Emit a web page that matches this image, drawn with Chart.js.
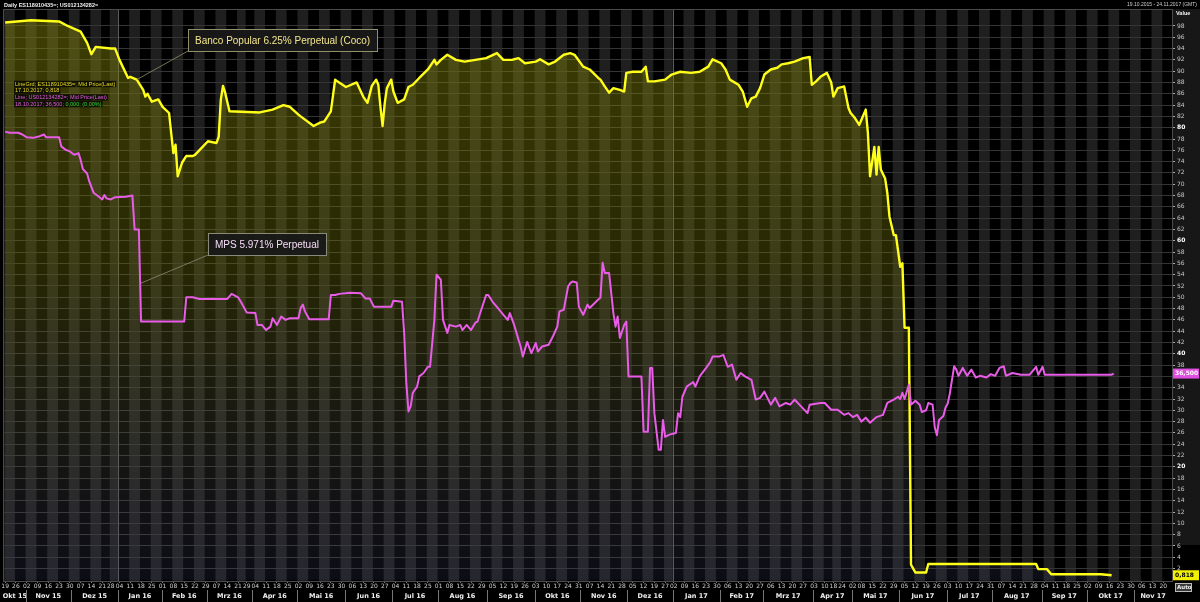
<!DOCTYPE html>
<html>
<head>
<meta charset="utf-8">
<script src="https://cdn.jsdelivr.net/npm/chart.js@4.4.1/dist/chart.umd.min.js"></script>
<style>
  html, body { margin: 0; padding: 0; background: #000; }
  canvas { display: block; }
</style>
</head>
<body>
<canvas id="chart" width="1200" height="602"></canvas>
<script>
// x axis = trading days (TARGET calendar) counted from 19.10.2015
const startDate = '2015-10-19';
const targetHolidays = ['2015-12-25', '2016-01-01', '2016-03-25', '2016-03-28', '2016-12-26',
  '2017-04-14', '2017-04-17', '2017-05-01'];
const monthNames = ['Jan', 'Feb', 'Mrz', 'Apr', 'Mai', 'Jun', 'Jul', 'Aug', 'Sep', 'Okt', 'Nov', 'Dez'];
const valueTicks = [2, 4, 6, 8, 10, 12, 14, 16, 18, 20, 22, 24, 26, 28, 30, 32, 34, 36, 38, 40, 42, 44, 46, 48,
  50, 52, 54, 56, 58, 60, 62, 64, 66, 68, 70, 72, 74, 76, 78, 80, 82, 84, 86, 88, 90, 92, 94, 96, 98];

// Banco Popular 6.25% Perpetual (ES118910435=), mid price
const popularDay = [0, 12, 25, 29, 35, 38, 40, 42, 49, 51, 53, 57, 58, 61, 64, 65, 66, 68, 71, 73, 76, 77, 78, 79,
  80, 82, 84, 87, 88, 90, 94, 98, 99, 100, 101, 102, 104, 118, 124, 129, 132, 136, 137, 143, 146, 148, 151, 153,
  154, 158, 163, 166, 168, 170, 172, 173, 174, 175, 176, 177, 179, 180, 182, 185, 187, 189, 192, 196, 199, 200,
  202, 205, 209, 213, 218, 223, 228, 231, 235, 238, 241, 246, 248, 252, 255, 259, 262, 264, 268, 271, 275, 276,
  278, 280, 282, 285, 287, 288, 291, 295, 297, 298, 301, 306, 309, 313, 318, 322, 326, 328, 332, 334, 336, 340,
  342, 344, 346, 348, 350, 352, 355, 358, 360, 363, 366, 370, 373, 374, 376, 378, 381, 383, 384, 386, 389, 391,
  392, 394, 396, 397, 399, 400, 401, 403, 404, 405, 406, 408, 409, 410, 412, 413, 415, 416, 417, 419, 420, 422,
  427, 428, 478, 479, 483, 485, 508, 513];
const popularPrice = [98.6, 99, 98.8, 98, 97, 95, 93, 94.3, 94, 94, 92, 88.8, 89, 88.5, 86.7, 85.5, 86, 84.6, 85,
  83.7, 82.6, 79, 75.5, 77, 71.4, 73.8, 75, 75, 75.2, 76, 77.6, 77.3, 78.4, 85, 87.4, 86.2, 82.9, 82.7, 83.2, 84,
  83.7, 82.3, 82, 80.3, 80.9, 81.1, 82.9, 88.5, 88.2, 87.2, 88, 85.5, 84.4, 87.4, 88.5, 87.6, 83.7, 80.3, 84.4,
  87, 88.5, 86.4, 84.4, 85, 87.2, 87.6, 88.8, 90.3, 92, 91.2, 92, 92.9, 92, 91.7, 92, 92.3, 93.2, 92, 92, 92.3,
  91.4, 91.7, 92.1, 91.2, 91.7, 92.9, 93.2, 92.9, 90.8, 90.3, 88.8, 88.5, 87.3, 86.2, 87, 86.7, 86.4, 89.7, 89.9,
  89.9, 90.8, 88.2, 88.2, 88.5, 89.4, 89.9, 89.7, 89.9, 90.8, 92.1, 91.4, 90.3, 88.5, 87.6, 86.4, 83.7, 85.2,
  85.5, 87, 89.4, 90.3, 90.6, 91.2, 91.4, 91.7, 92.3, 92.5, 87.6, 88.2, 89, 89.7, 88, 85.5, 87, 87.3, 83.5, 82.6,
  81.7, 80.5, 81.4, 83.2, 79.1, 71.4, 76.6, 71.7, 76.6, 72.6, 71, 68.5, 64.3, 61, 61, 55.4, 56, 44.6, 44.6, 2.7,
  1.3, 1.3, 2.8, 2.8, 1.9, 1.9, 1.0, 1.0, 0.818];

// MPS 5.971% Perpetual (US012134282=), mid price
const mpsDay = [0, 2, 6, 8, 10, 13, 16, 18, 19, 25, 26, 28, 30, 32, 34, 35, 36, 38, 39, 41, 43, 45, 46, 47, 49,
  51, 56, 59, 60, 62, 63, 83, 84, 87, 90, 103, 105, 108, 110, 112, 116, 117, 119, 121, 123, 124, 126, 128, 130,
  132, 136, 137, 138, 139, 141, 150, 151, 153, 155, 160, 165, 167, 169, 171, 179, 180, 184, 185, 186, 187, 188,
  189, 191, 192, 194, 196, 197, 199, 200, 202, 203, 205, 206, 209, 211, 212, 214, 216, 218, 219, 221, 223, 224,
  226, 228, 231, 233, 234, 236, 238, 239, 240, 242, 244, 246, 247, 249, 252, 254, 256, 257, 259, 261, 262, 263,
  265, 266, 268, 270, 271, 275, 276, 277, 278, 280, 282, 283, 284, 285, 287, 288, 289, 295, 296, 298, 299, 300,
  301, 303, 304, 305, 306, 308, 311, 312, 313, 314, 316, 319, 320, 322, 325, 327, 328, 331, 333, 335, 337, 339,
  341, 343, 346, 348, 350, 352, 355, 357, 359, 362, 364, 366, 369, 372, 373, 378, 380, 383, 386, 389, 391, 393,
  395, 397, 399, 401, 404, 407, 409, 412, 414, 415, 416, 417, 419, 420, 422, 424, 425, 427, 428, 430, 431, 432,
  433, 435, 436, 437, 438, 440, 441, 442, 444, 446, 448, 450, 452, 455, 457, 459, 461, 463, 464, 467, 471, 475,
  478, 479, 481, 482, 513, 514];
const mpsPrice = [79.3, 79.1, 79.1, 78.8, 78.3, 78.2, 78.5, 78.8, 78.3, 78.3, 76.7, 76.1, 75.8, 75.2, 75.5, 74.3,
  72.7, 71.9, 70.5, 68.5, 67.9, 67.3, 68.1, 67.5, 67.3, 67.7, 67.8, 68, 62, 62, 45.7, 45.7, 50, 50, 49.7, 49.7,
  50.6, 50, 48.7, 47.3, 47.2, 45.1, 45.1, 44.2, 44.8, 46.3, 45.1, 46.6, 46, 46.3, 46.3, 48.1, 48.7, 47.5, 46.1,
  46.1, 50.4, 50.4, 50.6, 50.8, 50.7, 49.8, 49.8, 48.3, 48.3, 49.4, 49.2, 43.7, 34.8, 29.8, 30.7, 33.1, 34.2, 36,
  36.6, 37.7, 37.7, 46, 54, 53.1, 46, 43.7, 45.1, 44.8, 45.1, 44.2, 45.1, 44.2, 45.5, 45.7, 48.1, 50.4, 50.4,
  49.2, 48.3, 46.9, 46, 47.2, 45.1, 42.5, 41.3, 39.5, 42.1, 40.1, 41.9, 40.4, 41.3, 41.6, 43.1, 44.8, 47.5, 47.8,
  51.9, 52.5, 52.8, 52.6, 48.3, 46.9, 48.7, 48.1, 49.6, 49.9, 56.1, 54.3, 54.3, 47.2, 44.8, 46.6, 42.8, 45.1,
  45.7, 36, 36, 26.2, 26.2, 37.5, 37.5, 29.5, 23, 23, 28.3, 25.3, 25.7, 26, 29.5, 28.8, 32.4, 34.2, 35, 34.2, 36,
  37.5, 38.6, 39.5, 39.5, 39.8, 37.7, 38.1, 35.4, 36.6, 36, 35.4, 31.9, 32.2, 33.3, 31, 32.2, 30.7, 31.3, 31,
  31.9, 30.7, 29.5, 31, 31.3, 31.3, 30.1, 30.1, 29.2, 29.5, 28.8, 29.2, 28, 28.7, 27.8, 28.8, 29.2, 31.3, 31.9,
  32.4, 32, 33.1, 32, 34.5, 31, 31.7, 31, 29.7, 30, 31.3, 31, 27, 25.6, 28.3, 29, 30.5, 31.2, 33, 37.8, 37.2,
  36.1, 37.5, 36.1, 37.2, 35.8, 36.1, 35.8, 36.4, 36.1, 37.5, 37.8, 36.1, 36.6, 36.3, 36.3, 37.7, 36.3, 37.7,
  36.3, 36.3, 36.5];

// trading calendar
const tradingDates = [];
{
  const d = new Date(startDate + 'T00:00:00Z');
  while (tradingDates.length < 560) {
    const iso = d.toISOString().slice(0, 10);
    const wd = d.getUTCDay();
    if (wd !== 0 && wd !== 6 && !targetHolidays.includes(iso)) tradingDates.push(iso);
    d.setUTCDate(d.getUTCDate() + 1);
  }
}
const dow = (i) => new Date(tradingDates[i] + 'T00:00:00Z').getUTCDay();
// first trading day of every week
const weekStarts = tradingDates.map((_, i) => i).filter(i => i === 0 || dow(i) < dow(i - 1));

const fmt = (v) => v.toFixed(3).replace('.', ',');

function fillGradient(context) {
  const { ctx, chartArea } = context.chart;
  if (!chartArea) return 'rgba(120,120,10,0.4)';
  const g = ctx.createLinearGradient(0, chartArea.top, 0, chartArea.bottom);
  g.addColorStop(0, 'rgba(140,140,10,0.45)');
  g.addColorStop(0.45, 'rgba(115,115,10,0.34)');
  g.addColorStop(1, 'rgba(70,70,120,0.18)');
  return g;
}

// background: week stripes, label column, year lines, frame
const backdrop = {
  id: 'backdrop',
  beforeDraw(chart) {
    const { ctx, chartArea: a, scales: { x } } = chart;
    ctx.save();
    ctx.fillStyle = '#000';
    ctx.fillRect(0, 0, chart.width, chart.height);
    ctx.fillStyle = '#171717';
    ctx.fillRect(a.right, a.top, chart.width - a.right, a.bottom - a.top - 36);
    ctx.fillStyle = '#1f1f1f';
    weekStarts.forEach((s, k) => {
      if (k % 2 === 1) return;
      const next = k + 1 < weekStarts.length ? weekStarts[k + 1] : s + 5;
      const l = Math.max(a.left, x.getPixelForValue(s - 0.5));
      const r = Math.min(a.right, x.getPixelForValue(next - 0.5));
      if (r > l) ctx.fillRect(l, a.top, r - l, a.bottom - a.top);
    });
    ctx.restore();
  },
  beforeDatasetsDraw(chart) {
    const { ctx, chartArea: a, scales: { x } } = chart;
    ctx.save();
    ctx.strokeStyle = '#5c5c5c';
    ctx.lineWidth = 1;
    ['2016', '2017'].forEach(yr => {
      const i = tradingDates.findIndex(d => d.startsWith(yr));
      const px = Math.round(x.getPixelForValue(i - 0.5)) + 0.5;
      ctx.beginPath();
      ctx.moveTo(px, a.top);
      ctx.lineTo(px, a.bottom);
      ctx.stroke();
    });
    ctx.strokeStyle = '#4a4a4a';
    ctx.strokeRect(a.left + 0.5, a.top + 0.5, a.right - a.left, a.bottom - a.top);
    ctx.restore();
  }
};

const callouts = [
  { text: 'Banco Popular 6.25% Perpetual (Coco)', boxDay: 85, boxValue: 97.5, day: 61, value: 88.5,
    color: '#f2e58c', border: '#8f8f6a' },
  { text: 'MPS 5.971% Perpetual', boxDay: 94, boxValue: 61.4, day: 63, value: 52.5,
    color: '#f6dcf6', border: '#8a8a7a' }
];

const overlays = {
  id: 'overlays',
  afterDraw(chart) {
    const { ctx, chartArea: a, scales: { x, y } } = chart;
    ctx.save();

    // header
    ctx.textBaseline = 'middle';
    ctx.fillStyle = '#f0f0f0';
    ctx.font = 'bold 5.5px "Liberation Sans"';
    ctx.textAlign = 'left';
    ctx.fillText('Daily ES118910435=; US012134282=', 4, 5);
    ctx.font = '5px "Liberation Sans"';
    ctx.textAlign = 'right';
    ctx.fillStyle = '#cfcfcf';
    ctx.fillText('19.10.2015 - 24.11.2017 (GMT)', 1197, 5);
    ctx.font = 'bold 5.5px "Liberation Sans"';
    ctx.textAlign = 'left';
    ctx.fillStyle = '#f0f0f0';
    ctx.fillText('Value', 1176, 13);

    // month row
    const groups = [];
    const first = Math.max(0, Math.ceil(x.min));
    const lastIdx = Math.min(tradingDates.length - 1, Math.floor(x.max));
    for (let i = first; i <= lastIdx; i++) {
      const key = tradingDates[i].slice(0, 7);
      const last = groups[groups.length - 1];
      if (last && last.key === key) last.end = i; else groups.push({ key, start: i, end: i });
    }
    ctx.font = 'bold 6.5px "DejaVu Sans"';
    ctx.textAlign = 'center';
    groups.forEach((g, k) => {
      const l = Math.max(a.left, x.getPixelForValue(g.start - 0.5));
      const r = Math.min(a.right, x.getPixelForValue(g.end + 0.5));
      const m = +g.key.slice(5, 7) - 1;
      ctx.fillStyle = '#f0f0f0';
      ctx.fillText(monthNames[m] + ' ' + g.key.slice(2, 4), (l + r) / 2, 596);
      if (k > 0) {
        ctx.strokeStyle = '#777';
        ctx.lineWidth = 1;
        ctx.beginPath();
        ctx.moveTo(Math.round(l) + 0.5, 590);
        ctx.lineTo(Math.round(l) + 0.5, 602);
        ctx.stroke();
      }
    });

    // legend block
    const legendRows = [
      [['LineGrd; ES118910435=; Mid Price(Last)', '#e8dc20']],
      [['17.10.2017; 0,818', '#e8dc20']],
      [['Line; US012134282=; Mid Price(Last)', '#e25ce2']],
      [['18.10.2017; 36,500; ', '#e25ce2'], ['0,000; (0,00%)', '#35d535']]
    ];
    ctx.font = '5.5px "Liberation Sans"';
    ctx.textAlign = 'left';
    legendRows.forEach((row, r) => {
      let px = 15;
      const py = 84 + r * 6.7;
      const w = row.reduce((s, p) => s + ctx.measureText(p[0]).width, 0);
      ctx.fillStyle = 'rgba(0,0,0,0.75)';
      ctx.fillRect(px - 1, py - 3.2, w + 2, 6.4);
      row.forEach(([t, c]) => {
        ctx.fillStyle = c;
        ctx.fillText(t, px, py);
        px += ctx.measureText(t).width;
      });
    });

    // callouts
    ctx.font = '10px "Liberation Sans"';
    callouts.forEach(c => {
      const bx = Math.round(x.getPixelForValue(c.boxDay));
      const by = Math.round(y.getPixelForValue(c.boxValue));
      const w = Math.round(ctx.measureText(c.text).width + 14);
      const h = 22;
      ctx.strokeStyle = c.border;
      ctx.lineWidth = 0.8;
      ctx.beginPath();
      ctx.moveTo(bx, by + h);
      ctx.lineTo(x.getPixelForValue(c.day), y.getPixelForValue(c.value));
      ctx.stroke();
      ctx.fillStyle = 'rgba(24,24,24,0.95)';
      ctx.fillRect(bx, by, w, h);
      ctx.lineWidth = 1;
      ctx.strokeRect(bx + 0.5, by + 0.5, w, h);
      ctx.fillStyle = c.color;
      ctx.textAlign = 'left';
      ctx.fillText(c.text, bx + 7, by + h / 2 + 1);
    });

    // last value badges
    const badge = (v, bg, fg) => {
      const py = y.getPixelForValue(v);
      ctx.fillStyle = bg;
      ctx.fillRect(a.right + 1, py - 5, 26, 10);
      ctx.fillStyle = fg;
      ctx.font = 'bold 6px "DejaVu Sans"';
      ctx.textAlign = 'left';
      ctx.fillText(fmt(v), a.right + 3, py);
    };
    badge(mpsPrice[mpsPrice.length - 1], '#e050e0', '#ffffff');
    badge(popularPrice[popularPrice.length - 1], '#f2f200', '#000000');
    ctx.fillStyle = '#3a3a3a';
    ctx.fillRect(a.right + 3, 583, 16, 8);
    ctx.strokeStyle = '#bbb';
    ctx.lineWidth = 1;
    ctx.strokeRect(a.right + 3.5, 583.5, 16, 8);
    ctx.fillStyle = '#eee';
    ctx.font = 'bold 5.5px "DejaVu Sans"';
    ctx.fillText('Auto', a.right + 5, 587.5);

    ctx.restore();
  }
};

new Chart(document.getElementById('chart'), {
  type: 'line',
  data: {
    datasets: [
      {
        label: 'Banco Popular 6.25% Perpetual (Coco)',
        data: popularDay.map((d, i) => ({ x: d, y: popularPrice[i] })),
        borderColor: '#ffff1a',
        borderWidth: 2.4,
        backgroundColor: fillGradient,
        fill: 'origin',
        pointRadius: 0,
        tension: 0,
        borderJoinStyle: 'round',
        order: 2
      },
      {
        label: 'MPS 5.971% Perpetual',
        data: mpsDay.map((d, i) => ({ x: d, y: mpsPrice[i] })),
        borderColor: '#e85ce8',
        borderWidth: 2,
        fill: false,
        pointRadius: 0,
        tension: 0,
        borderJoinStyle: 'round',
        order: 1
      }
    ]
  },
  options: {
    responsive: false,
    animation: false,
    devicePixelRatio: 1,
    layout: { padding: { left: 3, top: 9, right: 0, bottom: 0 } },
    plugins: { legend: { display: false }, tooltip: { enabled: false } },
    scales: {
      x: {
        type: 'linear',
        min: -1,
        max: 541,
        afterFit: (s) => { s.height = 21; },
        afterBuildTicks: (s) => {
          s.ticks = weekStarts.filter(i => i >= s.min && i <= s.max).map(i => ({ value: i }));
        },
        ticks: {
          autoSkip: false,
          maxRotation: 0,
          minRotation: 0,
          padding: 0,
          color: '#d0d0d0',
          font: { size: 6, family: 'DejaVu Sans' },
          callback: (v) => tradingDates[Math.round(v)].slice(8, 10)
        },
        grid: { drawOnChartArea: false, drawTicks: true, tickLength: 2, color: '#777' },
        border: { display: true, color: '#555' }
      },
      y: {
        position: 'right',
        min: -0.2,
        max: 101,
        afterFit: (s) => { s.width = 28; },
        afterBuildTicks: (s) => { s.ticks = valueTicks.map(v => ({ value: v })); },
        ticks: {
          padding: 2,
          color: (c) => (c.tick && c.tick.value % 20 === 0 ? '#ffffff' : '#c8c8c8'),
          font: (c) => ({ size: 6, family: 'DejaVu Sans', weight: c.tick && c.tick.value % 20 === 0 ? 'bold' : 'normal' })
        },
        grid: { color: '#353535', lineWidth: 1, tickLength: 3, tickColor: '#aaa' },
        border: { display: true, color: '#555' }
      }
    }
  },
  plugins: [backdrop, overlays]
});
</script>
</body>
</html>
